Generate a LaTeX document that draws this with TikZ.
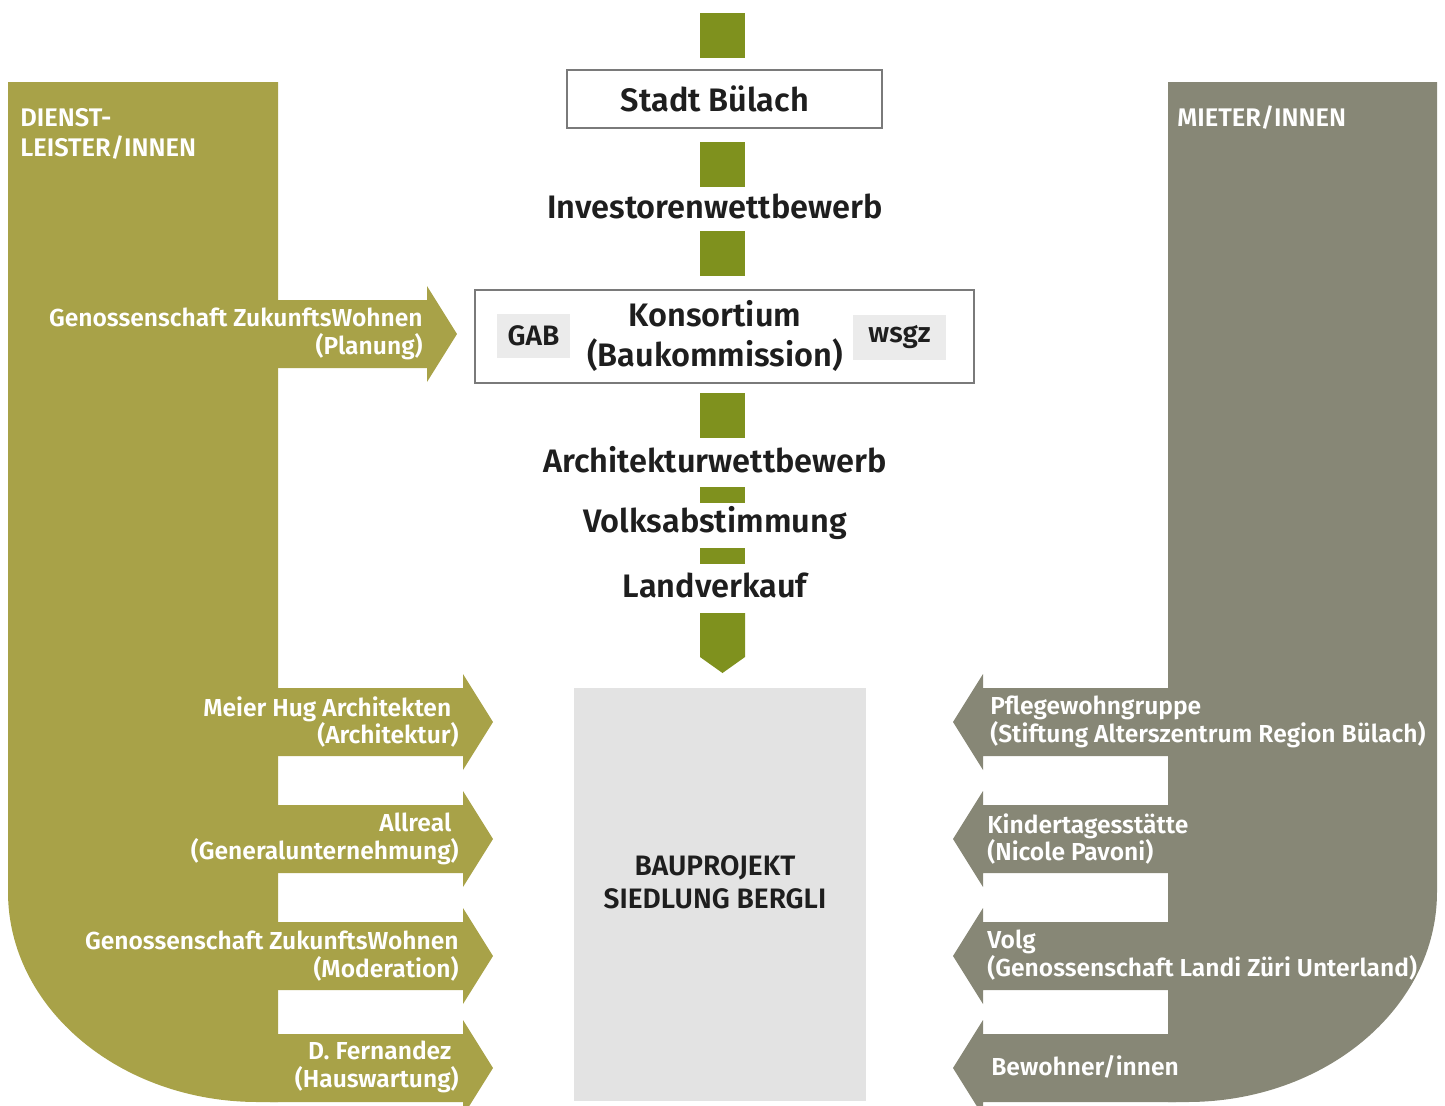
\documentclass[tikz,border=0pt]{standalone}
\usepackage{fontspec}
\setmainfont{Fira Sans}[BoldFont={Fira Sans SemiBold}]
\usetikzlibrary{positioning}
\definecolor{dienstolive}{RGB}{168,162,72}
\definecolor{mietergrey}{RGB}{135,135,118}
\definecolor{stepgreen}{RGB}{127,145,30}
\definecolor{framegrey}{RGB}{122,122,122}
\definecolor{darktext}{RGB}{30,30,30}
\definecolor{tagfill}{RGB}{235,235,235}
\definecolor{projfill}{RGB}{227,227,227}

\begin{document}
\begin{tikzpicture}[x=0.02cm, y=-0.02cm,
  greensq/.style={fill=stepgreen, minimum width=0.9cm, minimum height=0.9cm, inner sep=0pt},
  greenbar/.style={fill=stepgreen, minimum width=0.9cm, minimum height=0.32cm, inner sep=0pt},
  centertext/.style={text=darktext, font=\fontsize{18.5}{23}\selectfont\bfseries, align=center, inner sep=0pt},
  framebox/.style={draw=framegrey, line width=1.4pt, fill=white, inner sep=0pt},
  tagbox/.style={fill=tagfill, text=darktext, font=\fontsize{16}{18}\selectfont\bfseries, inner sep=0pt},
  lefttext/.style={text=white, font=\fontsize{14}{15.9}\selectfont\bfseries, align=right, anchor=east, inner sep=0pt},
  righttext/.style={text=white, font=\fontsize{14}{15.9}\selectfont\bfseries, align=left, anchor=west, inner sep=0pt},
  headtext/.style={text=white, font=\fontsize{14.5}{17}\selectfont\bfseries, align=left, inner sep=0pt}]
  \useasboundingbox (0,0) rectangle (1445,1106);

  % side bands
  \fill[dienstolive] (8,82) -- (278,82) -- (278,1102) -- (258,1102)
    arc[start angle=90, end angle=180, x radius=250, y radius=210] -- cycle;
  \fill[mietergrey] (1168,82) -- (1437,82) -- (1437,892)
    arc[start angle=0, end angle=90, x radius=250, y radius=210] -- (1168,1102) -- cycle;

  % arrows out of the bands
  \fill[dienstolive] (270,300) -- (427,300) -- (427,286) -- (457,334) -- (427,382) -- (427,368) -- (270,368) -- cycle;
  \foreach \y in {722,839,956,1068} {
    \fill[dienstolive] (270,\y-34) -- (463,\y-34) -- (463,\y-48) -- (493,\y) -- (463,\y+48) -- (463,\y+34) -- (270,\y+34) -- cycle;
    \fill[mietergrey] (1176,\y-34) -- (983,\y-34) -- (983,\y-48) -- (953,\y) -- (983,\y+48) -- (983,\y+34) -- (1176,\y+34) -- cycle;
  }

  \node[headtext, anchor=north west] (dienst) at (20,108) {DIENST-\\LEISTER/INNEN};
  \node[headtext, anchor=base west] (mieter) at (1177,126) {MIETER/INNEN};

  % center column
  \node[greensq] (sq1) at (722.5,35.5) {};
  \node[framebox, minimum width=6.3cm, minimum height=1.16cm] (stadtbox) at (724.5,99) {};
  \node[centertext] (stadt) at (715,99) {Stadt Bülach};
  \node[greensq] (sq2) at (722.5,164.5) {};
  \node[centertext] (invest) at (715,206) {Investorenwettbewerb};
  \node[greensq] (sq3) at (722.5,253.5) {};
  \node[framebox, minimum width=9.98cm, minimum height=1.86cm] (konsbox) at (724.5,336.5) {};
  \node[tagbox, minimum width=1.46cm, minimum height=0.88cm] (gab) at (533.5,336) {GAB};
  \node[tagbox, minimum width=1.86cm, minimum height=0.9cm] (wsgz) at (899.5,337.5) {wsgz};
  \node[centertext] (kons) at (715,336) {Konsortium\\(Baukommission)};
  \node[greensq] (sq4) at (722.5,415.5) {};
  \node[centertext] (archi) at (715,460) {Architekturwettbewerb};
  \node[greenbar] (bar1) at (722.5,495) {};
  \node[centertext] (volks) at (715,523) {Volksabstimmung};
  \node[greenbar] (bar2) at (722.5,556) {};
  \node[centertext] (land) at (715,585) {Landverkauf};
  \fill[stepgreen] (700,613) -- (745,613) -- (745,657) -- (722.5,673) -- (700,657) -- cycle;

  \node[fill=projfill, minimum width=5.84cm, minimum height=8.26cm, inner sep=0pt] (projbox) at (720,894.5) {};
  \node[text=darktext, font=\fontsize{16}{18.7}\selectfont\bfseries, align=center, inner sep=0pt] (proj) at (715,882) {BAUPROJEKT\\SIEDLUNG BERGLI};

  % service providers
  \node[lefttext] (planung) at (423,334) {Genossenschaft ZukunftsWohnen\\(Planung)};
  \node[lefttext] (meier) at (459,722) {Meier Hug Architekten\hspace*{0.3em}\\(Architektur)};
  \node[lefttext] (allreal) at (459,839) {Allreal\hspace*{0.3em}\\(Generalunternehmung)};
  \node[lefttext] (moderation) at (459,956) {Genossenschaft ZukunftsWohnen\\(Moderation)};
  \node[lefttext] (fernandez) at (459,1067) {D. Fernandez\hspace*{0.3em}\\(Hauswartung)};

  % tenants
  \node[righttext] (pflege) at (990,722) {Pflegewohngruppe\\(Stiftung Alterszentrum Region Bülach)};
  \node[righttext] (kita) at (987,839) {Kindertagesstätte\\(Nicole Pavoni)};
  \node[righttext] (volg) at (987,955) {Volg\\(Genossenschaft Landi Züri Unterland)};
  \node[righttext] (bewohner) at (991,1067) {Bewohner/innen};
\end{tikzpicture}
\end{document}
